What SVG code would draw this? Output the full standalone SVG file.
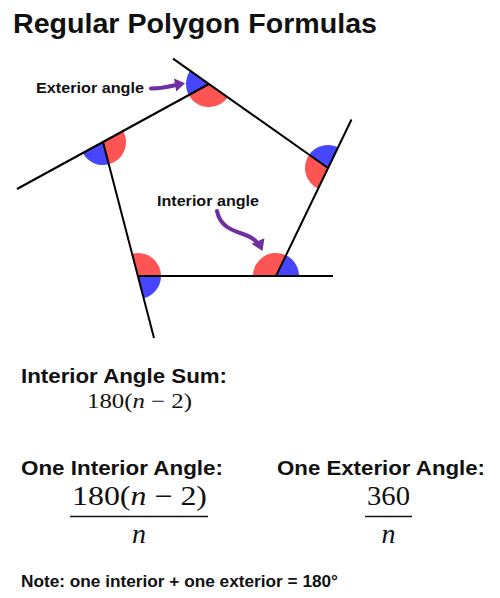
<svg xmlns="http://www.w3.org/2000/svg" width="500" height="598" viewBox="0 0 500 598">
  <style>
    .sans { font-family: "Liberation Sans", Arial, sans-serif; font-weight: bold; fill: #111111; }
    .math { font-family: "Liberation Serif", "DejaVu Serif", serif; fill: #111111; }
    .int { fill: #FF5454; }
    .ext { fill: #4646FF; }
    .edge { stroke: #000000; stroke-width: 2; fill: none; stroke-linecap: butt; }
    .arrow { stroke: #7030A0; stroke-width: 4; fill: none; stroke-linecap: round; }
    .head { fill: #7030A0; }
    .bar { stroke: #111111; stroke-width: 1.7; }
  </style>
  <rect x="0" y="0" width="500" height="598" fill="#FFFFFF"/>

  <text id="title" class="sans" x="13" y="33" font-size="27" textLength="364" lengthAdjust="spacingAndGlyphs">Regular Polygon Formulas</text>

  <g id="angles">
    <g id="vertex-top">
      <path class="int" d="M209,84 L227.8,97.3 A23,23 0 0 1 188.8,95 Z"/>
      <path class="ext" d="M209,84 L188.8,95 A23,23 0 0 1 190.2,70.7 Z"/>
    </g>
    <g id="vertex-left">
      <path class="int" d="M103,142 L123.2,131 A23,23 0 0 1 108.8,164.3 Z"/>
      <path class="ext" d="M103,142 L108.8,164.3 A23,23 0 0 1 82.8,153 Z"/>
    </g>
    <g id="vertex-bottom-left">
      <path class="int" d="M138,276 L132.2,253.7 A23,23 0 0 1 161,276 Z"/>
      <path class="ext" d="M138,276 L161,276 A23,23 0 0 1 143.8,298.3 Z"/>
    </g>
    <g id="vertex-bottom-right">
      <path class="int" d="M276,276 L253,276 A23,23 0 0 1 286,255.3 Z"/>
      <path class="ext" d="M276,276 L286,255.3 A23,23 0 0 1 299,276 Z"/>
    </g>
    <g id="vertex-right">
      <path class="int" d="M328,168 L318,188.7 A23,23 0 0 1 309.2,154.7 Z"/>
      <path class="ext" d="M328,168 L309.2,154.7 A23,23 0 0 1 338,147.3 Z"/>
    </g>
  </g>

  <g id="polygon-sides">
    <line class="edge" x1="209" y1="84" x2="17" y2="189"/>
    <line class="edge" x1="103" y1="142" x2="154" y2="338"/>
    <line class="edge" x1="138" y1="276" x2="333" y2="276"/>
    <line class="edge" x1="276" y1="276" x2="351.5" y2="119.5"/>
    <line class="edge" x1="328" y1="168" x2="173" y2="58.6"/>
  </g>

  <g id="label-exterior">
    <text class="sans" x="36" y="93" font-size="15" textLength="108" lengthAdjust="spacingAndGlyphs">Exterior angle</text>
  </g>
  <g id="label-interior">
    <text class="sans" x="157" y="206" font-size="15" textLength="102" lengthAdjust="spacingAndGlyphs">Interior angle</text>
  </g>

  <g id="connectors">
    <path class="arrow" d="M151,88.5 Q164,88.3 175,85.3"/>
    <polygon class="head" points="185,83.3 174,78.6 176.2,91.4"/>
    <path class="arrow" d="M217,211 C220,226 231,230 243,234 Q253,237.5 256.5,242"/>
    <polygon class="head" points="262.5,251 251.6,243.8 264.4,238.2"/>
  </g>

  <g id="formula-sum">
    <text class="sans" x="21" y="383" font-size="20" textLength="206" lengthAdjust="spacingAndGlyphs">Interior Angle Sum:</text>
    <text class="math" x="87" y="408" font-size="21" textLength="105" lengthAdjust="spacingAndGlyphs">180(<tspan font-style="italic">n</tspan> − 2)</text>
  </g>

  <g id="formula-interior">
    <text class="sans" x="21" y="475" font-size="20" textLength="202" lengthAdjust="spacingAndGlyphs">One Interior Angle:</text>
    <text class="math" x="72" y="505" font-size="27" textLength="135" lengthAdjust="spacingAndGlyphs">180(<tspan font-style="italic">n</tspan> − 2)</text>
    <line class="bar" x1="70" y1="516.5" x2="208" y2="516.5"/>
    <text class="math" x="139" y="543" font-size="28" font-style="italic" text-anchor="middle">n</text>
  </g>

  <g id="formula-exterior">
    <text class="sans" x="277" y="475" font-size="20" textLength="208" lengthAdjust="spacingAndGlyphs">One Exterior Angle:</text>
    <text class="math" x="367" y="505" font-size="27" textLength="43" lengthAdjust="spacingAndGlyphs">360</text>
    <line class="bar" x1="365" y1="516.5" x2="412" y2="516.5"/>
    <text class="math" x="388.5" y="543" font-size="28" font-style="italic" text-anchor="middle">n</text>
  </g>

  <g id="note">
    <text class="sans" x="21" y="587" font-size="16" textLength="317" lengthAdjust="spacingAndGlyphs">Note: one interior + one exterior = 180°</text>
  </g>
</svg>
